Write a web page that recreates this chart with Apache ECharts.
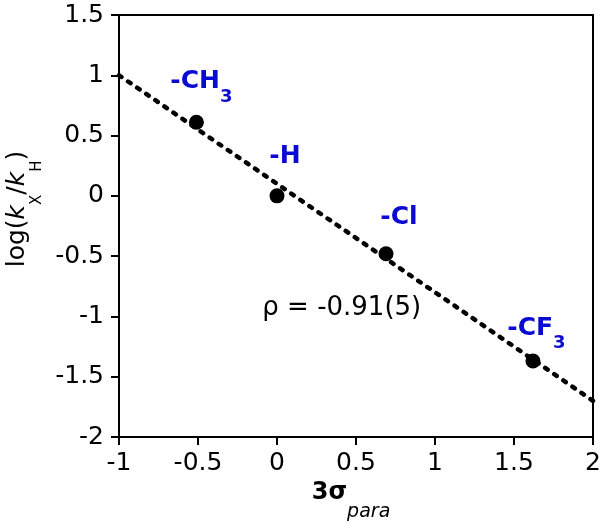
<!DOCTYPE html>
<html><head><meta charset="utf-8">
<script src="https://cdn.jsdelivr.net/npm/echarts@6/dist/echarts.min.js"></script>
<style>html,body{margin:0;padding:0;background:#fff}#c{width:600px;height:528px}</style>
</head><body><div id="c"></div>
<script>
// ---- data ----
const labelMain = ['-CH', '-H', '-Cl', '-CF'];
const labelSub = ['3', '', '', '3'];
const sigmaX = [-0.51, 0.0, 0.69, 1.62];
const logK = [0.61, 0.0, -0.48, -1.37];
const fitX = [-1, 2];
const fitY = [1.0, -1.7];
const rhoText = 'ρ = -0.91(5)';
const rhoAt = [0.41, -0.93];
const xRange = [-1, 2, 0.5];
const yRange = [-2, 1.5, 0.5];

// ---- styling ----
const FF = 'DejaVu Sans';
const BLUE = '#0a0ad2';
const labelOffsets = [[5, -41], [8, -40], [13, -37], [3.5, -33.5]];

const chart = echarts.init(document.getElementById('c'), null, {renderer: 'canvas'});

const scatterData = sigmaX.map((x, i) => ({
  value: [x, logK[i]],
  label: {
    offset: labelOffsets[i],
    formatter: '{m|' + labelMain[i] + '}' + (labelSub[i] ? '{s|' + labelSub[i] + '}' : '')
  }
}));

const axisCommon = {
  type: 'value',
  axisLine: {show: true, onZero: false, lineStyle: {color: '#000', width: 2}},
  axisTick: {show: true, inside: false, length: 8, lineStyle: {color: '#000', width: 2}},
  splitLine: {show: false},
  axisLabel: {color: '#000', fontSize: 25, fontFamily: FF}
};

chart.setOption({
  animation: false,
  backgroundColor: '#fff',
  grid: {left: 119, right: 7, top: 15, bottom: 91, containLabel: false, outerBoundsMode: 'none',
         show: true, borderColor: '#000', borderWidth: 2, backgroundColor: 'transparent'},
  xAxis: Object.assign({}, axisCommon, {
    min: xRange[0], max: xRange[1], interval: xRange[2],
    axisLabel: Object.assign({}, axisCommon.axisLabel, {margin: 14}),
    name: '{b|3σ}{p|para}',
    nameLocation: 'middle',
    nameGap: 42,
    nameTextStyle: {
      padding: [0, 10, 0, 0],
      rich: {
        b: {fontSize: 24, fontWeight: 'bold', lineHeight: 24, verticalAlign: 'top', color: '#000', fontFamily: FF},
        p: {fontSize: 19, fontStyle: 'italic', lineHeight: 19, padding: [22, 0, 0, 0], verticalAlign: 'top', color: '#000', fontFamily: FF}
      }
    }
  }),
  yAxis: Object.assign({}, axisCommon, {
    min: yRange[0], max: yRange[1], interval: yRange[2],
    axisLabel: Object.assign({}, axisCommon.axisLabel, {margin: 15}),
    name: '{n|log(}{i|k}{s|X}{n|/}{i|k}{s|H}{n|)}',
    nameLocation: 'middle',
    nameRotate: 90,
    nameGap: 77,
    nameTextStyle: {
      padding: [0, 0, 0, 34],
      rich: {
        n: {fontSize: 25, lineHeight: 26, verticalAlign: 'top', color: '#000', fontFamily: FF},
        i: {fontSize: 25, lineHeight: 26, fontStyle: 'italic', verticalAlign: 'top', color: '#000', fontFamily: FF},
        s: {fontSize: 15, lineHeight: 15, padding: [24, 0, 0, 0], verticalAlign: 'top', color: '#000', fontFamily: FF}
      }
    }
  }),
  series: [
    {
      type: 'line',
      data: fitX.map((x, i) => [x, fitY[i]]),
      showSymbol: false,
      silent: true,
      lineStyle: {color: '#000', width: 4.5, type: [3, 8], cap: 'round', opacity: 1},
      z: 2,
      markPoint: {
        symbol: 'circle',
        symbolSize: 0,
        silent: true,
        data: [{coord: rhoAt}],
        label: {show: true, position: 'inside', formatter: rhoText, color: '#000', fontSize: 26, fontFamily: FF}
      }
    },
    {
      type: 'scatter',
      data: scatterData,
      symbol: 'circle',
      symbolSize: 15,
      itemStyle: {color: '#000', opacity: 1},
      z: 3,
      label: {
        show: true,
        position: 'inside',
        rich: {
          m: {fontSize: 25, fontWeight: 'bold', lineHeight: 24, verticalAlign: 'top', color: BLUE, fontFamily: FF},
          s: {fontSize: 18, fontWeight: 'bold', lineHeight: 17, padding: [19, 0, 0, 0], verticalAlign: 'top', color: BLUE, fontFamily: FF}
        }
      }
    }
  ]
});
</script>
</body></html>
